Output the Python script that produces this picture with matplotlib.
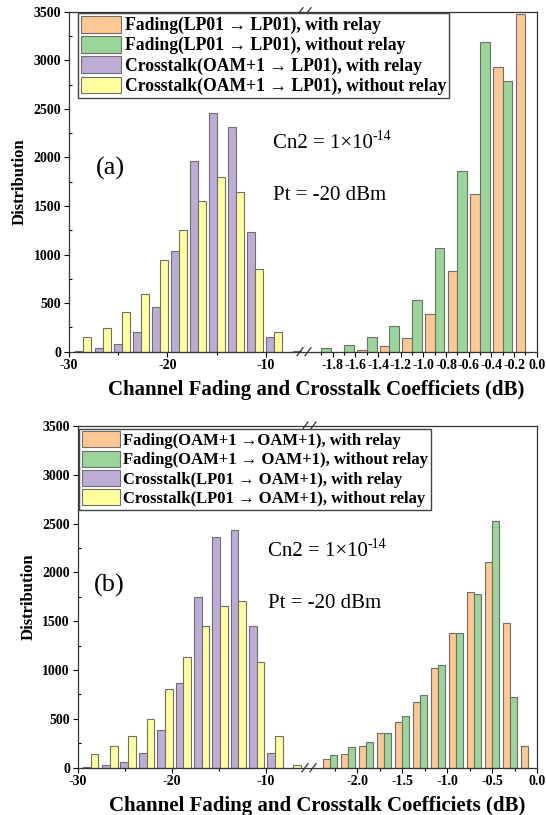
import matplotlib
matplotlib.use("Agg")
import matplotlib.pyplot as plt
import matplotlib.patches as mpatches
from matplotlib.lines import Line2D
from matplotlib.ticker import MultipleLocator, FixedLocator, FormatStrFormatter

# ── Data ──────────────────────────────────────────────────────────────────────

# (a) crosstalk part (left of break), bin centres in dB
a_xt_centers = [-28.58, -26.54, -24.64, -22.71, -20.75, -18.81,
                -16.92, -14.95, -13.05, -11.08, -9.22, -7.29]
a_xt_relay   = [10, 34, 75, 199, 463, 1038, 1962, 2460, 2316, 1228, 148, 0]
a_xt_norelay = [148, 247, 412, 597, 943, 1250, 1551, 1801, 1647, 847, 206, 12]

# (a) fading part (right of break)
a_fd_centers = [-1.9, -1.7, -1.5, -1.3, -1.1, -0.9, -0.7, -0.5, -0.3, -0.1]
a_fd_relay   = [0, 0, 14, 62, 137, 388, 834, 1621, 2929, 3480]
a_fd_norelay = [34, 69, 155, 264, 532, 1064, 1863, 3191, 2787, 0]

# (b) crosstalk part
b_xt_centers = [-28.62, -26.56, -24.65, -22.66, -20.71, -18.76,
                -16.81, -14.86, -12.91, -10.96, -9.01, -7.06]
b_xt_relay   = [10, 27, 55, 147, 386, 871, 1752, 2367, 2435, 1451, 154, 0]
b_xt_norelay = [140, 225, 328, 499, 809, 1137, 1451, 1656, 1708, 1086, 328, 30]

# (b) fading part
b_fd_centers = [-2.3, -2.1, -1.9, -1.7, -1.5, -1.3, -1.1, -0.9, -0.7, -0.5, -0.3, -0.1]
b_fd_relay   = [85, 140, 222, 352, 471, 669, 1024, 1376, 1803, 2104, 1479, 225]
b_fd_norelay = [133, 208, 263, 352, 533, 744, 1052, 1380, 1783, 2531, 727, 0]

a_fd_ticks = [-1.8, -1.6, -1.4, -1.2, -1.0, -0.8, -0.6, -0.4, -0.2, 0.0]
b_fd_ticks = [-2.0, -1.5, -1.0, -0.5, 0.0]

a_labels = ["Fading(LP01 \u2192 LP01), with relay",
            "Fading(LP01 \u2192 LP01), without relay",
            "Crosstalk(OAM+1 \u2192 LP01), with relay",
            "Crosstalk(OAM+1 \u2192 LP01), without relay"]
b_labels = ["Fading(OAM+1 \u2192OAM+1), with relay",
            "Fading(OAM+1 \u2192 OAM+1), without relay",
            "Crosstalk(LP01 \u2192 OAM+1), with relay",
            "Crosstalk(LP01 \u2192 OAM+1), without relay"]

# ── Style ─────────────────────────────────────────────────────────────────────

C_ORANGE = "#FDC893"
C_GREEN  = "#9AD69A"
C_PURPLE = "#BDADD6"
C_YELLOW = "#FFFF9C"
EDGE     = "#6E6E6E"
SERIF    = ["Liberation Serif", "DejaVu Serif"]

plt.rcParams.update({
    "font.family": SERIF,
    "font.weight": "bold",
    "xtick.direction": "out",
    "ytick.direction": "out",
    "axes.linewidth": 0.9,
    "axes.edgecolor": "#333333",
})

W, H = 546, 815
TICK_FS = 10


def fx(px):
    return px / W


def fy(py):
    return 1 - py / H


def make_pair(fig, x0, xb, x1, ybot, ytop):
    axl = fig.add_axes([fx(x0), fy(ybot), fx(xb) - fx(x0), (ybot - ytop) / H])
    axr = fig.add_axes([fx(xb), fy(ybot), fx(x1) - fx(xb), (ybot - ytop) / H],
                       sharey=axl)
    axl.spines["right"].set_visible(False)
    axr.spines["left"].set_visible(False)
    axr.tick_params(axis="y", which="both", left=False, labelleft=False)
    for ax in (axl, axr):
        ax.tick_params(axis="x", which="both", top=False)
        ax.tick_params(which="major", length=3.6, width=0.8, labelsize=TICK_FS, pad=2)
        ax.tick_params(which="minor", length=2.5, width=0.8)
    axl.set_ylim(0, 3500)
    axl.yaxis.set_major_locator(MultipleLocator(500))
    axl.yaxis.set_minor_locator(MultipleLocator(250))
    axl.tick_params(axis="y", which="both", right=False)
    axl.tick_params(axis="y", which="minor", direction="in", length=2)
    axl.xaxis.set_major_locator(MultipleLocator(10))
    axl.xaxis.set_minor_locator(MultipleLocator(5))
    axl.xaxis.set_major_formatter(FormatStrFormatter("%d"))
    return axl, axr


def pair_bars(ax, centers, v1, v2, width, c1, c2):
    left = [c - width / 2 for c in centers]
    right = [c + width / 2 for c in centers]
    ax.bar(left, v1, width=width, color=c1, edgecolor=EDGE, linewidth=0.8)
    ax.bar(right, v2, width=width, color=c2, edgecolor=EDGE, linewidth=0.8)


def break_marks(fig, xc, ys):
    for y in ys:
        for dx in (-4, 4):
            fig.add_artist(Line2D([fx(xc + dx - 3), fx(xc + dx + 3)],
                                  [fy(y + 4), fy(y - 4)],
                                  color="#333333", linewidth=0.9))


def cn2_text(fig, x, y):
    base = fig.text(fx(x), fy(y), "Cn2 = 1\u00d710", fontsize=15,
                    fontweight="normal", ha="left", va="center")
    bb = base.get_window_extent(renderer=fig.canvas.get_renderer())
    fig.text(bb.x1 / fig.dpi / fig.get_figwidth(), fy(y - 7), "-14",
             fontsize=10, fontweight="normal", ha="left", va="center")


def legend(fig, labels, x, y, size):
    fig.legend(handles=[mpatches.Patch(facecolor=c, edgecolor=EDGE, linewidth=0.8)
                        for c in (C_ORANGE, C_GREEN, C_PURPLE, C_YELLOW)],
               labels=labels, loc="upper left",
               bbox_to_anchor=(fx(x), fy(y)),
               prop={"family": SERIF, "weight": "bold", "size": size},
               frameon=True, fancybox=False, edgecolor="#444444", framealpha=1,
               handlelength=2.3, handleheight=1.1, handletextpad=0.2,
               labelspacing=0.1, borderpad=0.15, borderaxespad=0)


fig = plt.figure(figsize=(W / 100, H / 100), dpi=100)

# ── (a) ───────────────────────────────────────────────────────────────────────
a_l, a_r = make_pair(fig, 69, 303, 536.7, 351.7, 11.7)
pair_bars(a_l, a_xt_centers, a_xt_relay, a_xt_norelay, 0.82, C_PURPLE, C_YELLOW)
pair_bars(a_r, a_fd_centers, a_fd_relay, a_fd_norelay, 0.086, C_ORANGE, C_GREEN)
a_l.set_xlim(-30, -6.24)
a_r.set_xlim(-2.063, 0)
a_r.xaxis.set_major_locator(FixedLocator(a_fd_ticks))
a_r.xaxis.set_minor_locator(FixedLocator([t - 0.1 for t in a_fd_ticks]))
a_r.xaxis.set_major_formatter(FormatStrFormatter("%.1f"))
a_l.set_ylabel("Distribution", fontsize=12, fontweight="bold", labelpad=4)
break_marks(fig, 304, [351.7, 11.7])
legend(fig, a_labels, 78, 13, 12.7)

fig.text(fx(110), fy(168), "(a)", fontsize=19, fontweight="normal",
         ha="center", va="center")
cn2_text(fig, 272.7, 143)
fig.text(fx(272.7), fy(195), "Pt = -20 dBm", fontsize=15, fontweight="normal",
         ha="left", va="center")
fig.text(fx(316), fy(390), "Channel Fading and Crosstalk Coefficiets (dB)",
         fontsize=15, fontweight="bold", ha="center", va="center")

# ── (b) ───────────────────────────────────────────────────────────────────────
b_l, b_r = make_pair(fig, 77.7, 307.5, 537.3, 767.7, 426)
pair_bars(b_l, b_xt_centers, b_xt_relay, b_xt_norelay, 0.82, C_PURPLE, C_YELLOW)
pair_bars(b_r, b_fd_centers, b_fd_relay, b_fd_norelay, 0.08, C_ORANGE, C_GREEN)
b_l.set_xlim(-30, -5.55)
b_r.set_xlim(-2.553, 0)
b_r.xaxis.set_major_locator(FixedLocator(b_fd_ticks))
b_r.xaxis.set_minor_locator(FixedLocator([t - 0.25 for t in b_fd_ticks]))
b_r.xaxis.set_major_formatter(FormatStrFormatter("%.1f"))
b_l.set_ylabel("Distribution", fontsize=12, fontweight="bold", labelpad=4)
break_marks(fig, 309, [767.7, 426])
legend(fig, b_labels, 79, 429, 12.0)

fig.text(fx(109), fy(585), "(b)", fontsize=19, fontweight="normal",
         ha="center", va="center")
cn2_text(fig, 268, 551.7)
fig.text(fx(268), fy(603), "Pt = -20 dBm", fontsize=15, fontweight="normal",
         ha="left", va="center")
fig.text(fx(317), fy(806), "Channel Fading and Crosstalk Coefficiets (dB)",
         fontsize=15, fontweight="bold", ha="center", va="center")

fig.savefig("out.png", dpi=100)
